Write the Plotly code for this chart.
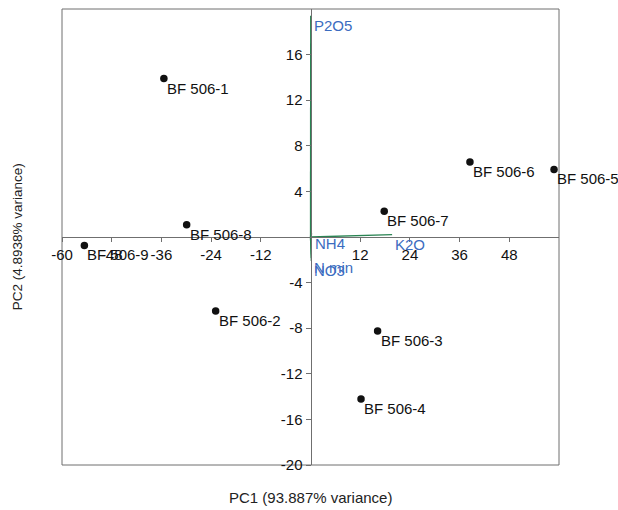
import plotly.graph_objects as go

# PCA scores of the samples
samples = ["BF 506-1", "BF 506-2", "BF 506-3", "BF 506-4", "BF 506-5",
           "BF 506-6", "BF 506-7", "BF 506-8", "BF 506-9"]
pc1 = [-35.4, -22.9, 16.2, 12.2, 58.8, 38.5, 17.8, -29.9, -54.6]
pc2 = [13.9, -6.5, -8.25, -14.2, 5.93, 6.58, 2.25, 1.08, -0.74]

# Variable loadings (scaled to the score space)
variables = ["N min", "NO3", "NH4", "P2O5", "K2O"]
load1 = [0.2, 0.2, 0.3, 0.05, 19.7]
load2 = [-1.85, -2.1, 0.3, 19.4, 0.2]

x_ticks = [-60, -48, -36, -24, -12, 12, 24, 36, 48]
y_ticks = [-20, -16, -12, -8, -4, 4, 8, 12, 16]

x_title = "PC1 (93.887% variance)"
y_title = "PC2 (4.8938% variance)"

FONT = "Arial, Liberation Sans, sans-serif"
AXIS_GREY = "#6f6f6f"
LOAD_GREEN = "#2a8453"
LOAD_BLUE = "#3b6cc0"

fig = go.Figure()

# loading vectors from the origin
lx, ly = [], []
for a, b in zip(load1, load2):
    lx += [0, a, None]
    ly += [0, b, None]
fig.add_trace(go.Scatter(x=lx, y=ly, mode="lines",
                         line=dict(color=LOAD_GREEN, width=1.3),
                         hoverinfo="skip", showlegend=False))

# sample scores
fig.add_trace(go.Scatter(x=pc1, y=pc2, mode="markers",
                         marker=dict(color="#111111", size=7.5),
                         text=samples, hoverinfo="text", showlegend=False))

annotations = []
for name, a, b in zip(samples, pc1, pc2):
    annotations.append(dict(x=a, y=b, text=name, showarrow=False,
                            xanchor="left", yanchor="top", xshift=1, yshift=1,
                            font=dict(family=FONT, size=15, color="#111111")))
for name, a, b in zip(variables, load1, load2):
    annotations.append(dict(x=a, y=b, text=name, showarrow=False,
                            xanchor="left", yanchor="top", xshift=1, yshift=1,
                            font=dict(family=FONT, size=15, color=LOAD_BLUE)))

# axis titles
annotations.append(dict(x=0.5, y=-0.049, xref="paper", yref="paper", yanchor="top",
                        text=x_title, showarrow=False,
                        font=dict(family=FONT, size=15, color="#222222")))
annotations.append(dict(x=-0.09, y=0.5, xref="paper", yref="paper", xanchor="center",
                        text=y_title, showarrow=False, textangle=-90,
                        font=dict(family=FONT, size=13.5, color="#222222")))

fig.update_layout(
    width=618, height=510,
    margin=dict(l=62, r=59, t=9, b=45),
    paper_bgcolor="white", plot_bgcolor="white",
    font=dict(family=FONT, size=15, color="#111111"),
    xaxis=dict(range=[-60, 60], anchor="free", position=0.5,
               tickvals=x_ticks, ticktext=[str(v) for v in x_ticks],
               showgrid=False, zeroline=False,
               showline=True, linecolor=AXIS_GREY, linewidth=1,
               ticks="outside", ticklen=4, tickcolor=AXIS_GREY,
               tickfont=dict(family=FONT, size=15, color="#111111")),
    yaxis=dict(range=[-20, 20], anchor="free", position=0.5,
               tickvals=y_ticks, ticktext=[str(v) for v in y_ticks],
               showgrid=False, zeroline=False,
               showline=True, linecolor=AXIS_GREY, linewidth=1,
               ticks="outside", ticklen=5, tickcolor=AXIS_GREY,
               tickfont=dict(family=FONT, size=15, color="#111111")),
    shapes=[dict(type="rect", xref="paper", yref="paper", x0=0, y0=0, x1=1, y1=1,
                 line=dict(color=AXIS_GREY, width=1), layer="below")],
    annotations=annotations,
)

fig.write_html("out.html")
